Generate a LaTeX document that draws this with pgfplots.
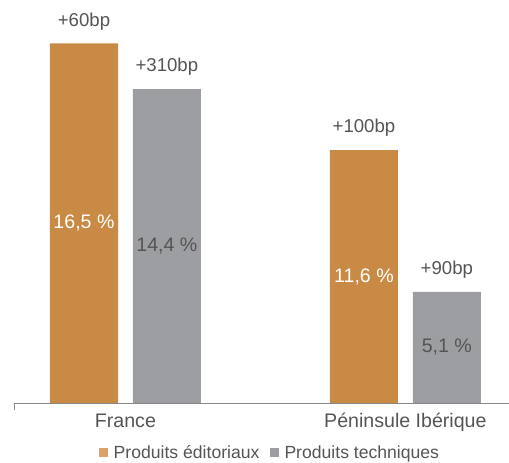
\documentclass[border=0pt]{standalone}
\usepackage{pgfplots}
\pgfplotsset{compat=1.18}
\usepackage{fontspec}
\setmainfont{Liberation Sans}
\definecolor{orb}{HTML}{C98A45}
\definecolor{grb}{HTML}{9D9EA2}
\definecolor{orl}{HTML}{DBA26C}
\definecolor{txt}{HTML}{555555}
\definecolor{axl}{HTML}{888888}
\begin{document}
\begin{tikzpicture}
\path[use as bounding box] (-14pt,-60pt) rectangle (495pt,403pt);
\begin{axis}[
  scale only axis, width=495pt, height=403pt,
  xmin=-0.398, xmax=1.370, ymin=0, ymax=18.486,
  axis x line*=bottom, axis y line=none,
  x axis line style={draw=axl, line width=0.8pt, -},
  xtick={0,1}, xticklabels={France, Péninsule Ibérique},
  major tick length=0pt,
  xticklabel style={font=\fontsize{19.6}{22}\selectfont, text=txt, yshift=-7pt},
  ybar, bar width=0.243, bar shift=0pt,
  clip=false,
  legend style={at={(0.517,-0.124)}, anchor=center, draw=none, fill=none,
    font=\fontsize{17.6}{20}\selectfont, text=txt, legend columns=2,
    /tikz/every even column/.append style={column sep=8pt},
    /tikz/every odd column/.append style={column sep=4pt}},
  legend image code/.code={\fill[#1] (0pt,-4.5pt) rectangle (9pt,4.5pt);},
]
\addplot[fill=orb, draw=none, forget plot] coordinates {(-0.148,16.5) (0.852,11.6)};
\addplot[fill=grb, draw=none, forget plot] coordinates {(0.148,14.4) (1.148,5.1)};
\addlegendimage{fill=orl, draw=none}
\addlegendentry{Produits éditoriaux}
\addlegendimage{fill=grb, draw=none}
\addlegendentry{Produits techniques}
\draw[axl, line width=0.8pt] (axis cs:-0.398,0) -- ++(0pt,-7pt);
\begin{scope}[every node/.style={font=\fontsize{18.6}{22}\selectfont}]
\node[text=txt] at (axis cs:-0.148,17.51) {+60bp};
\node[text=txt] at (axis cs:0.148,15.41) {+310bp};
\node[text=txt] at (axis cs:0.852,12.61) {+100bp};
\node[text=txt] at (axis cs:1.148,6.11) {+90bp};
\node[text=white, font=\fontsize{19.6}{22}\selectfont] at (axis cs:-0.148,8.25) {16,5 \%};
\node[text=txt, font=\fontsize{19.6}{22}\selectfont] at (axis cs:0.148,7.2) {14,4 \%};
\node[text=white, font=\fontsize{19.6}{22}\selectfont] at (axis cs:0.852,5.8) {11,6 \%};
\node[text=txt, font=\fontsize{19.6}{22}\selectfont] at (axis cs:1.148,2.55) {5,1 \%};
\end{scope}
\end{axis}
\end{tikzpicture}
\end{document}
